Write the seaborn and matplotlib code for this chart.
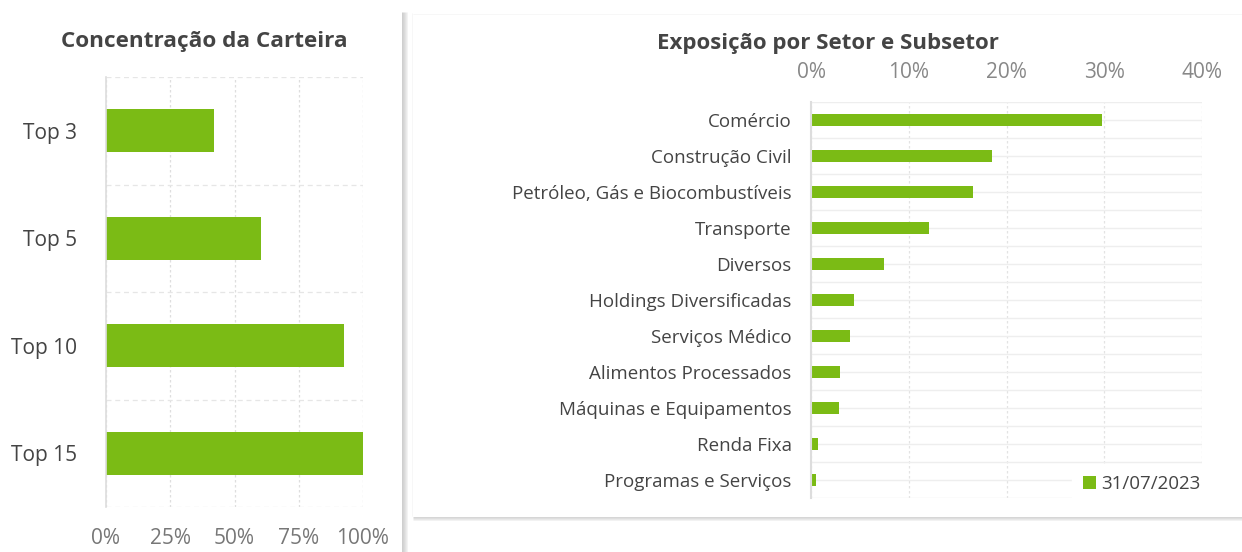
import matplotlib
matplotlib.use("Agg")
import matplotlib.pyplot as plt
import seaborn as sns
import numpy as np
from matplotlib.lines import Line2D
from matplotlib.patches import Patch
from matplotlib.ticker import FuncFormatter, FixedLocator

# ---- data ----
conc_labels = ["Top 3", "Top 5", "Top 10", "Top 15"]
conc_values = [41.9, 60.3, 92.5, 100.0]
conc_ticks = [0, 25, 50, 75, 100]

setor_labels = ["Comércio", "Construção Civil", "Petróleo, Gás e Biocombustíveis",
                "Transporte", "Diversos", "Holdings Diversificadas", "Serviços Médico",
                "Alimentos Processados", "Máquinas e Equipamentos", "Renda Fixa",
                "Programas e Serviços"]
setor_values = [29.8, 18.5, 16.6, 12.1, 7.5, 4.4, 4.0, 3.0, 2.9, 0.7, 0.5]
setor_ticks = [0, 10, 20, 30, 40]
legend_label = "31/07/2023"

GREEN = "#7BBB15"
W, H = 1242, 552

sns.set_theme(style="white")
plt.rcParams["font.family"] = ["Open Sans", "DejaVu Sans"]

fig = plt.figure(figsize=(W / 100, H / 100), dpi=100)
fig.patch.set_facecolor("white")

def px_axes(x0, y0, x1, y1):
    return fig.add_axes([x0 / W, 1 - y1 / H, (x1 - x0) / W, (y1 - y0) / H])

def px_line(xs, ys, color, lw_px=1):
    fig.add_artist(Line2D([x / W for x in xs], [1 - y / H for y in ys], color=color,
                          lw=lw_px * 0.72, transform=fig.transFigure, solid_capstyle="butt"))

pct = FuncFormatter(lambda v, p: f"{v:.0f}%")

# ---- panel borders / shadows ----
for i, c in enumerate(["#cfcfcf", "#d4d4d4", "#dadada", "#e2e2e2", "#eaeaea", "#f3f3f3"]):
    px_line([401.5 + i, 401.5 + i], [12, 552], c)
px_line([412.5, 412.5], [13, 516], "#f7f7f7")
px_line([413, 1242], [13.5, 13.5], "#f7f7f7")
for i, c in enumerate(["#d6d6d6", "#dedede", "#e8e8e8", "#f2f2f2"]):
    px_line([413, 1242], [516.5 + i, 516.5 + i], c)

# ---- left chart ----
ax1 = px_axes(106, 77, 363, 507)
sns.barplot(x=conc_values, y=conc_labels, orient="h", color=GREEN, saturation=1,
            width=0.4, linewidth=0, ax=ax1)
ax1.set_xlim(0, 100)
ax1.set_ylim(len(conc_labels) - 0.5, -0.5)
ax1.xaxis.set_major_locator(FixedLocator(conc_ticks))
ax1.xaxis.set_major_formatter(pct)
ax1.yaxis.set_minor_locator(FixedLocator(np.arange(-0.5, len(conc_labels), 1.0)))
ax1.grid(axis="x", which="major", color="#dedede", linestyle=(0, (2, 2)), lw=0.9)
ax1.grid(axis="y", which="minor", color="#e6e6e6", linestyle=(0, (4, 3)), lw=0.9)
ax1.set_axisbelow(True)
for s in ["top", "right", "bottom"]:
    ax1.spines[s].set_visible(False)
ax1.spines["left"].set_color("#dddddd")
ax1.spines["left"].set_linewidth(1.2)
ax1.tick_params(axis="y", length=0, pad=21, labelsize=15, labelcolor="#444444")
ax1.tick_params(axis="x", length=0, pad=15, labelsize=15, labelcolor="#777777")
ax1.tick_params(axis="y", which="minor", length=0)
ax1.set_xlabel("")
ax1.set_ylabel("")
fig.text(204 / W, 1 - 42 / H, "Concentração da Carteira", ha="center", va="center",
         fontsize=16.2, fontweight="bold", color="#444444")

# ---- right chart ----
ax2 = px_axes(811, 102, 1202, 498)
sns.barplot(x=setor_values, y=setor_labels, orient="h", color=GREEN, saturation=1,
            width=0.35, linewidth=0, ax=ax2)
ax2.set_xlim(0, 40)
ax2.set_ylim(len(setor_labels) - 0.5, -0.5)
ax2.xaxis.set_major_locator(FixedLocator(setor_ticks))
ax2.xaxis.set_major_formatter(pct)
ax2.xaxis.tick_top()
ax2.yaxis.set_minor_locator(FixedLocator(np.arange(-0.5, len(setor_labels), 1.0)))
ax2.grid(axis="y", which="both", color="#eeeeee", linestyle="-", lw=1.0)
ax2.grid(axis="x", which="major", color="#e3e3e3", linestyle=(0, (2, 2)), lw=0.9)
ax2.set_axisbelow(True)
for s in ["top", "right", "bottom"]:
    ax2.spines[s].set_visible(False)
ax2.spines["left"].set_color("#dddddd")
ax2.spines["left"].set_linewidth(1.5)
ax2.tick_params(axis="y", which="both", length=0, pad=14, labelsize=13.5, labelcolor="#444444")
ax2.tick_params(axis="x", length=0, pad=14, labelsize=15, labelcolor="#888888")
ax2.set_xlabel("")
ax2.set_ylabel("")
leg = ax2.legend(handles=[Patch(facecolor=GREEN, edgecolor="none", label=legend_label)],
                 loc="lower right", bbox_to_anchor=(1.025, -0.016), frameon=True,
                 facecolor="white", edgecolor="white", framealpha=1, fontsize=13.5,
                 handlelength=0.65, handleheight=0.65, handletextpad=0.3,
                 borderpad=0.6, borderaxespad=0.0, fancybox=False, labelcolor="#444444")
fig.text(828 / W, 1 - 44 / H, "Exposição por Setor e Subsetor", ha="center", va="center",
         fontsize=16, fontweight="bold", color="#444444")

fig.savefig("out.png", dpi=100, facecolor="white")
